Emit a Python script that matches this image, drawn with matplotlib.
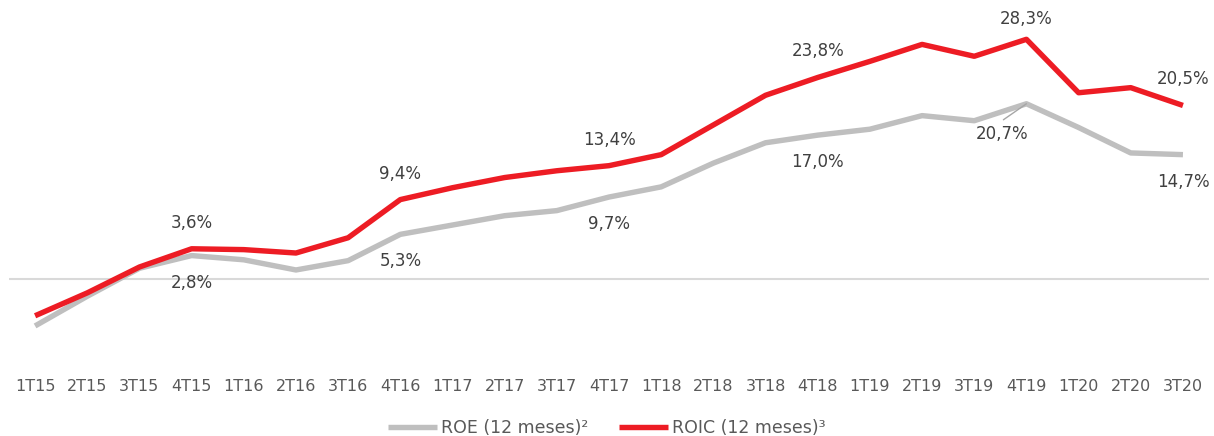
import matplotlib
matplotlib.use("Agg")
import matplotlib.pyplot as plt

categories = ["1T15", "2T15", "3T15", "4T15", "1T16", "2T16", "3T16", "4T16",
              "1T17", "2T17", "3T17", "4T17", "1T18", "2T18", "3T18", "4T18",
              "1T19", "2T19", "3T19", "4T19", "1T20", "2T20", "3T20"]
roe = [-5.5, -2.0, 1.3, 2.8, 2.3, 1.1, 2.2, 5.3,
       6.4, 7.5, 8.1, 9.7, 10.9, 13.7, 16.1, 17.0,
       17.7, 19.3, 18.7, 20.7, 17.9, 14.9, 14.7]
roic = [-4.3, -1.6, 1.45, 3.6, 3.5, 3.1, 4.9, 9.4,
        10.8, 12.0, 12.8, 13.4, 14.7, 18.2, 21.7, 23.8,
        25.7, 27.7, 26.3, 28.3, 22.0, 22.6, 20.5]
roe_labels = {3: "2,8%", 7: "5,3%", 11: "9,7%", 15: "17,0%", 19: "20,7%", 22: "14,7%"}
roic_labels = {3: "3,6%", 7: "9,4%", 11: "13,4%", 15: "23,8%", 19: "28,3%", 22: "20,5%"}

RED = "#ED1C24"
GREY = "#BFBFBF"
TXT = "#404040"
font = ["DejaVu Sans"]

fig = plt.figure(figsize=(12.14, 4.36), dpi=100)
ax = fig.add_axes([0.00741, 0.1649, 0.9885, 0.8169])
x = list(range(len(categories)))
ax.axhline(0, color="#D9D9D9", lw=1.5, zorder=1)
ax.plot(x, roe, color=GREY, lw=3.9, solid_capstyle="butt", zorder=2, label="ROE (12 meses)²")
ax.plot(x, roic, color=RED, lw=3.9, solid_capstyle="butt", zorder=3, label="ROIC (12 meses)³")

for i, t in roic_labels.items():
    off = 20 if i == 19 else 26
    ax.annotate(t, (i, roic[i]), xytext=(0, off), textcoords="offset pixels",
                ha="center", va="center", fontsize=12, color=TXT, family=font)
for i, t in roe_labels.items():
    if i == 19:
        ax.annotate(t, (i, roe[i]), xytext=(-24, -30), textcoords="offset pixels",
                    ha="center", va="center", fontsize=12, color=TXT, family=font)
        ax.annotate("", xy=(i, roe[i]), xytext=(-23, -16), textcoords="offset pixels",
                    arrowprops=dict(arrowstyle="-", color="#A6A6A6", lw=1.0,
                                    shrinkA=0, shrinkB=0), zorder=4)
    else:
        ax.annotate(t, (i, roe[i]), xytext=(0, -27), textcoords="offset pixels",
                    ha="center", va="center", fontsize=12, color=TXT, family=font)

ax.set_xlim(-0.5, len(categories) - 0.5)
ax.set_ylim(-10, 32)
ax.set_xticks(x)
ax.set_xticklabels(categories, family=font, fontsize=11.5, color="#595959")
ax.tick_params(axis="x", length=0, pad=10.6)
ax.set_yticks([])
for s in ax.spines.values():
    s.set_visible(False)

leg = fig.legend(loc="center", bbox_to_anchor=(0.5, 0.018), ncol=2, frameon=False,
                 prop={"family": font, "size": 12.5}, handlelength=2.8,
                 columnspacing=1.8, handletextpad=0.25)
for t in leg.get_texts():
    t.set_color("#595959")

fig.savefig("out.png", dpi=100)
